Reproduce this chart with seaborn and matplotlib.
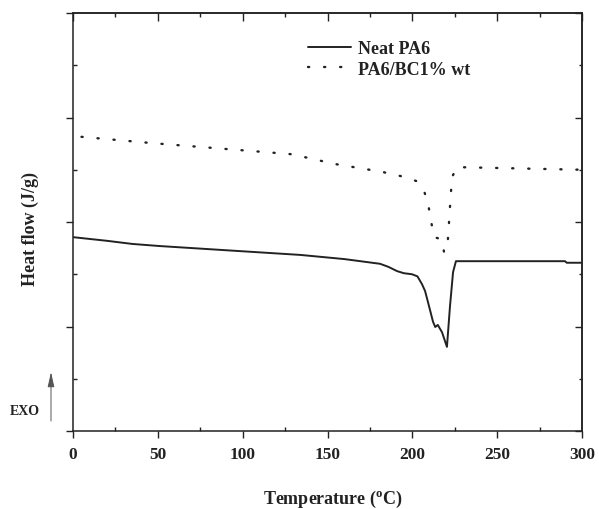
import matplotlib
matplotlib.use("Agg")
import matplotlib.pyplot as plt
import numpy as np
import pandas as pd
import seaborn as sns
from matplotlib.ticker import MultipleLocator, NullFormatter

# ---- data (arbitrary heat-flow units) ----
temp_neat = [0, 20, 35, 51, 90, 134, 160, 181, 186, 191, 195, 199.8, 203, 205.7,
             207.5, 209.2, 212.2, 213.5, 215.0, 217.5, 220.4, 222.2, 224.0, 225.7,
             290, 291, 300]
flow_neat = [3.71, 3.64, 3.58, 3.54, 3.46, 3.37, 3.29, 3.20, 3.14, 3.06, 3.02, 3.00,
             2.96, 2.81, 2.68, 2.47, 2.09, 1.99, 2.03, 1.89, 1.61, 2.39, 3.04, 3.25,
             3.25, 3.22, 3.22]

temp_bc = [5, 46.6, 127.9, 134, 154.4, 182.1, 195.7, 202.7, 206.9, 209.2, 210.4,
           211.6, 212.8, 215.0, 217.5, 218.7, 220.7, 221.6, 222.4, 223.4, 226.3, 300]
flow_bc = [5.63, 5.51, 5.30, 5.26, 5.11, 4.96, 4.86, 4.78, 4.59, 4.38, 4.13,
           3.92, 3.71, 3.69, 3.65, 3.42, 3.54, 3.98, 4.40, 4.86, 5.05, 5.00]

labels = ["Neat PA6", "PA6/BC1% wt"]
x_ticks = [0, 50, 100, 150, 200, 250, 300]

sns.set_style("ticks")
plt.rcParams["font.family"] = ["Liberation Serif", "DejaVu Serif"]
plt.rcParams["font.weight"] = "bold"
plt.rcParams["mathtext.fontset"] = "custom"
plt.rcParams["mathtext.rm"] = "Liberation Serif:bold"
plt.rcParams["mathtext.it"] = "Liberation Serif:bold"
plt.rcParams["mathtext.bf"] = "Liberation Serif:bold"

ink = "#222222"
fig = plt.figure(figsize=(5.99, 5.10), dpi=100)
ax = fig.add_axes([73 / 599, 1 - 432 / 510, 509 / 599, 418 / 510])

df_neat = pd.DataFrame({"T": temp_neat, "H": flow_neat})
df_bc = pd.DataFrame({"T": temp_bc, "H": flow_bc})

sns.lineplot(data=df_neat, x="T", y="H", ax=ax, color=ink, lw=1.4,
             estimator=None, label=labels[0])
sns.lineplot(data=df_bc, x="T", y="H", ax=ax, color=ink, lw=1.7,
             estimator=None, label=labels[1])
dot_line = ax.lines[1]
dot_line.set_linestyle((0, (0.5, 6.3)))
dot_line.set_dash_capstyle("round")

ax.set_xlim(0, 300)
ax.set_ylim(0, 8)
ax.set_xticks(x_ticks)
ax.xaxis.set_minor_locator(MultipleLocator(25))
ax.yaxis.set_major_locator(MultipleLocator(2))
ax.yaxis.set_minor_locator(MultipleLocator(1))
ax.yaxis.set_major_formatter(NullFormatter())

for s in ax.spines.values():
    s.set_color(ink)
    s.set_linewidth(1.1)

ax.tick_params(which="major", direction="out", length=5, width=1, color=ink,
               labelsize=12.5, labelcolor=ink, pad=6)
ax.tick_params(which="minor", direction="in", length=3, width=1, color=ink)

secx = ax.secondary_xaxis("top")
secx.set_xticks(x_ticks)
secx.xaxis.set_minor_locator(MultipleLocator(25))
secx.xaxis.set_major_formatter(NullFormatter())
secx.tick_params(which="major", direction="in", length=5.5, width=1, color=ink)
secx.tick_params(which="minor", direction="in", length=3, width=1, color=ink)
secy = ax.secondary_yaxis("right")
secy.yaxis.set_major_locator(MultipleLocator(2))
secy.yaxis.set_minor_locator(MultipleLocator(1))
secy.yaxis.set_major_formatter(NullFormatter())
secy.tick_params(which="major", direction="in", length=5, width=1, color=ink)
secy.tick_params(which="minor", direction="in", length=2.5, width=1, color=ink)
for sa in (secx, secy):
    for s in sa.spines.values():
        s.set_color(ink)
        s.set_linewidth(1.1)

ax.set_xlabel(r"Temperature ($^{\mathrm{o}}$C)", fontsize=13, fontweight="bold", color=ink)
ax.xaxis.set_label_coords(0.511, -0.136)
ax.set_ylabel("Heat flow (J/g)", fontsize=13, fontweight="bold", color=ink)
ax.yaxis.set_label_coords(-0.066, 0.486)

leg = ax.legend(loc="upper left", bbox_to_anchor=(0.462, 0.935), frameon=False,
                handlelength=2.4, handletextpad=0.35, labelspacing=0.2,
                borderpad=0, borderaxespad=0,
                prop={"family": "Liberation Serif", "weight": "bold", "size": 13})
leg_lines = leg.get_lines()
leg_lines[1].set_linestyle((0, (0.5, 6.3)))
leg_lines[1].set_dash_capstyle("round")
for t in leg.get_texts():
    t.set_color(ink)

fig.text(10 / 599, 1 - 412 / 510, "EXO", fontsize=10, fontweight="bold",
         va="center", ha="left", color=ink)
ax.annotate("", xy=(51 / 599, 1 - 373 / 510), xytext=(51 / 599, 1 - 422 / 510),
            xycoords="figure fraction", textcoords="figure fraction",
            arrowprops=dict(arrowstyle="-|>,head_length=0.9,head_width=0.2",
                            color="#555555", lw=0.7, shrinkA=0, shrinkB=0))

fig.savefig("out.png", dpi=100)
